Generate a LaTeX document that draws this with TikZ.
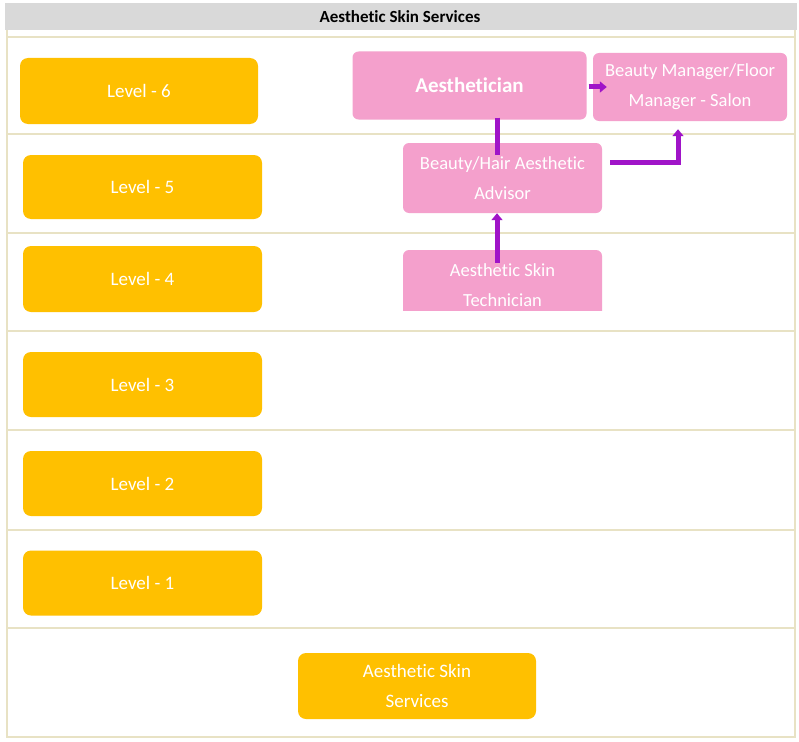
\documentclass[tikz,border=0pt]{standalone}
\usepackage{fontspec}
\setmainfont{Carlito}[Ligatures=NoCommon]
\usetikzlibrary{arrows.meta,calc}
\definecolor{lvlc}{RGB}{255,192,0}
\definecolor{pinkc}{RGB}{244,160,204}
\definecolor{arrowc}{RGB}{160,20,200}
\definecolor{sepc}{RGB}{232,226,196}
\definecolor{hdrc}{RGB}{217,217,217}
\begin{document}
\begin{tikzpicture}[x=1pt,y=-1pt,
  levelbox/.style={fill=lvlc,rounded corners=8pt,minimum width=239pt,minimum height=65pt,text=white,font=\fontsize{19}{30}\selectfont,align=center,inner sep=0pt},
  rolebox/.style={fill=pinkc,rounded corners=6pt,text=white,font=\fontsize{18.5}{30}\selectfont,align=center,inner sep=0pt},
  link/.style={draw=arrowc,line width=5pt},
  arr/.style={link,-{Triangle[length=7pt,width=11pt]}},
  sepline/.style={draw=sepc,line width=1.2pt}
]
\useasboundingbox[fill=white] (0,0) rectangle (799,741);
% header
\fill[hdrc] (5,3) rectangle (797,30);
\node[font=\bfseries\fontsize{17}{20}\selectfont] (title) at (400,16.5) {Aesthetic Skin Services};
% frame and separators
\draw[sepline] (7,30) -- (7,737) -- (795,737) -- (795,30);
\foreach \yy in {37,134,233,331,430,530,628}
  \draw[sepline] (7,\yy) -- (795,\yy);
% level boxes
\node[levelbox,minimum width=238pt,minimum height=66pt] (l6) at (139,91) {Level - 6};
\node[levelbox,minimum height=64pt] (l5) at (142.5,187) {Level - 5};
\node[levelbox,minimum height=66pt] (l4) at (142.5,279) {Level - 4};
\node[levelbox] (l3) at (142.5,384.5) {Level - 3};
\node[levelbox] (l2) at (142.5,483.5) {Level - 2};
\node[levelbox] (l1) at (142.5,583) {Level - 1};
\node[levelbox,minimum width=238pt,minimum height=66pt] (base) at (417,686) {Aesthetic Skin\\Services};
% role boxes
\node[rolebox,minimum width=234pt,minimum height=68pt,font=\bfseries\fontsize{21}{24}\selectfont] (aest) at (469.5,85.5) {Aesthetician};
\node[rolebox,minimum width=194pt,minimum height=68pt] (mgr) at (690,87) {Beauty Manager/Floor\\Manager - Salon};
\node[rolebox,minimum width=199pt,minimum height=70pt] (adv) at (502.5,178) {Beauty/Hair Aesthetic\\Advisor};
\begin{scope}
  \clip (380,240) rectangle (620,310);
  \node[rolebox,minimum width=199pt,minimum height=70pt] (tech) at (502.5,285) {Aesthetic Skin\\Technician};
\end{scope}
% connectors
\draw[arr] ($(aest.east)+(2,1.5)$) -- ($(mgr.west)+(14,0)$);
\draw[link] ($(aest.south)+(27.5,-2)$) -- ($(adv.north)+(-5.5,12)$);
\draw[arr] ($(tech.north)+(-5.5,13)$) -- ($(adv.south)+(-5.5,0)$);
\draw[arr] ($(adv.east)+(8,-16)$) -| ($(mgr.south)+(-12,8)$);
\end{tikzpicture}
\end{document}
